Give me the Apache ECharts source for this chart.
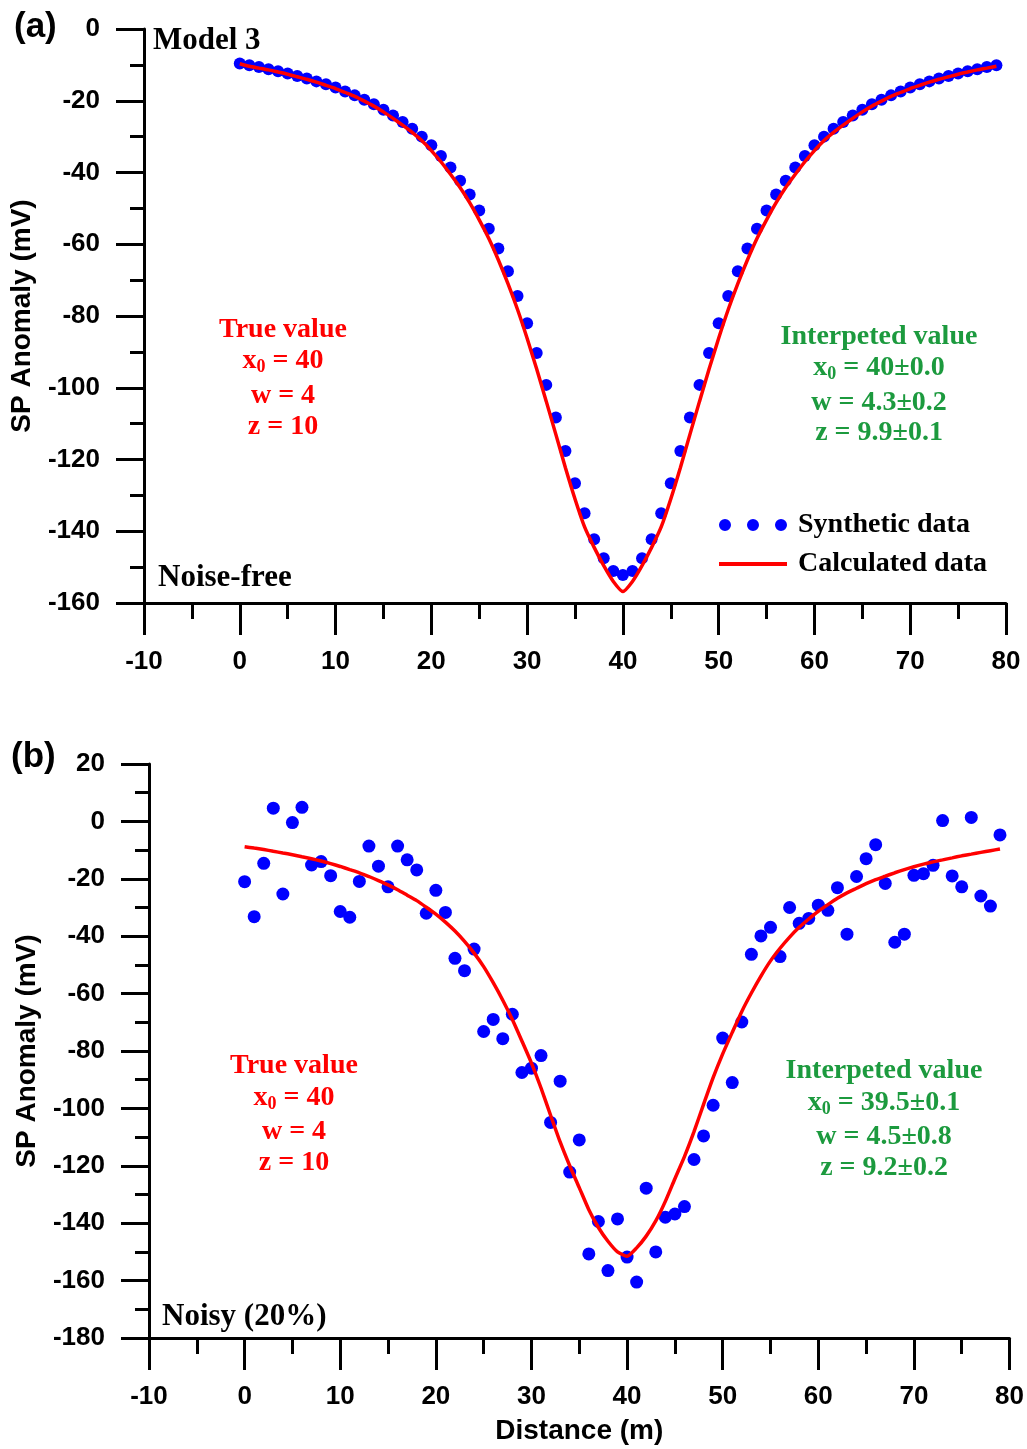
<!DOCTYPE html>
<html>
<head>
<meta charset="utf-8">
<script src="https://cdn.jsdelivr.net/npm/echarts@6/dist/echarts.min.js"></script>
<style>
  html, body { margin: 0; padding: 0; background: #fff; }
  #chart { width: 1027px; height: 1449px; }
</style>
</head>
<body>
<div id="chart"></div>
<script>
// Profile positions (m)
const distance = [0,1,2,3,4,5,6,7,8,9,10,11,12,13,14,15,16,17,18,19,
  20,21,22,23,24,25,26,27,28,29,30,31,32,33,34,35,36,37,38,39,
  40,41,42,43,44,45,46,47,48,49,50,51,52,53,54,55,56,57,58,59,
  60,61,62,63,64,65,66,67,68,69,70,71,72,73,74,75,76,77,78,79];

// (a) noise-free synthetic SP anomaly (mV)
const synthClean = [-9.6,-10.1,-10.6,-11.2,-11.8,-12.4,-13.1,-13.8,-14.6,-15.4,
  -16.3,-17.4,-18.5,-19.7,-21.0,-22.5,-24.1,-25.9,-27.8,-30.0,
  -32.4,-35.4,-38.6,-42.3,-46.1,-50.6,-55.7,-61.2,-67.5,-74.4,
  -82.0,-90.3,-99.2,-108.3,-117.6,-126.6,-135.0,-142.2,-147.5,-151.1,
  -152.2,-151.1,-147.5,-142.2,-135.0,-126.6,-117.6,-108.3,-99.2,-90.3,
  -82.0,-74.4,-67.5,-61.2,-55.7,-50.6,-46.1,-42.3,-38.6,-35.4,
  -32.4,-30.0,-27.8,-25.9,-24.1,-22.5,-21.0,-19.7,-18.5,-17.4,
  -16.3,-15.4,-14.6,-13.8,-13.1,-12.4,-11.8,-11.2,-10.6,-10.1];

// (a) calculated response of the inverted model (mV)
const calcClean = [-9.7,-10.4,-10.9,-11.4,-12.0,-12.6,-13.3,-14.0,-14.8,-15.7,
  -16.6,-17.7,-18.8,-20.1,-21.5,-23.1,-24.9,-26.8,-28.8,-31.1,
  -33.9,-37.0,-40.5,-44.2,-48.4,-53.2,-58.4,-64.4,-71.0,-78.2,
  -86.2,-94.8,-103.8,-113.0,-122.3,-131.0,-138.8,-144.5,-149.6,-154.0,
  -156.8,-154.0,-149.6,-144.5,-138.8,-131.0,-122.3,-113.0,-103.8,-94.8,
  -86.2,-78.2,-71.0,-64.4,-58.4,-53.2,-48.4,-44.2,-40.5,-37.0,
  -33.9,-31.1,-28.8,-26.8,-24.9,-23.1,-21.5,-20.1,-18.8,-17.7,
  -16.6,-15.7,-14.8,-14.0,-13.3,-12.6,-12.0,-11.4,-10.9,-10.4];

// (b) synthetic SP anomaly with 20% noise (mV)
const synthNoisy = [-21.0,-33.2,-14.6,4.6,-25.3,-0.4,4.9,-15.2,-14.0,-18.9,
  -31.4,-33.4,-20.9,-8.6,-15.6,-22.8,-8.6,-13.4,-16.9,-32.0,
  -24.0,-31.7,-47.7,-52.0,-44.5,-73.2,-69.0,-75.7,-67.2,-87.5,
  -86.0,-81.6,-104.9,-90.5,-122.2,-111.0,-150.7,-139.4,-156.5,-138.5,
  -151.8,-160.5,-127.8,-150.0,-137.9,-136.8,-134.2,-117.8,-109.6,-98.9,
  -75.5,-91.0,-69.9,-46.3,-39.9,-36.9,-47.1,-30.0,-35.5,-33.8,
  -29.2,-31.0,-23.1,-39.3,-19.2,-13.0,-8.1,-21.6,-42.1,-39.3,
  -18.8,-18.2,-15.3,0.3,-19.0,-22.8,1.4,-26.0,-29.5,-4.7];

// (b) calculated response of the inverted model (mV)
const calcNoisy = [-8.8,-9.3,-9.8,-10.4,-11.0,-11.6,-12.3,-13.0,-13.8,-14.7,
  -15.7,-16.8,-17.9,-19.2,-20.6,-22.1,-23.8,-25.7,-27.6,-29.9,
  -32.3,-35.1,-38.2,-41.8,-45.9,-50.6,-56.2,-62.3,-69.0,-76.5,
  -84.2,-92.9,-102.4,-111.7,-120.0,-127.6,-135.3,-141.5,-146.3,-150.0,
  -151.5,-148.6,-144.5,-139.2,-132.4,-124.5,-116.8,-108.1,-98.6,-89.3,
  -81.0,-73.5,-66.2,-59.8,-53.9,-48.6,-44.2,-40.3,-36.9,-34.0,
  -31.3,-29.0,-26.8,-24.9,-23.3,-21.7,-20.3,-19.1,-17.9,-16.8,
  -15.8,-14.9,-14.1,-13.4,-12.7,-12.0,-11.4,-10.8,-10.2,-9.6];

// Axis ranges
const xRange = { min: -10, max: 80, interval: 10 };
const yRangeA = { min: -160, max: 0, interval: 20 };
const yRangeB = { min: -180, max: 20, interval: 20 };

const pairs = (ys) => distance.map((d, i) => [d, ys[i]]);

const SANS = '"Liberation Sans", Arial, sans-serif';
const SERIF = '"Liberation Serif", "Times New Roman", serif';
const RED = '#ff0000';
const GREEN = '#1c9a3e';
const BLUE = '#0000ff';

function axisCommon() {
  return {
    axisLine: { show: true, onZero: false, lineStyle: { color: '#000', width: 3 } },
    axisTick: { show: true, length: 28, lineStyle: { color: '#000', width: 3 } },
    minorTick: { show: true, splitNumber: 2, length: 14, lineStyle: { color: '#000', width: 3 } },
    splitLine: { show: false },
    minorSplitLine: { show: false },
    axisLabel: { color: '#000', fontFamily: SANS, fontWeight: 'bold', fontSize: 26 }
  };
}

function xAxis(gridIndex, name) {
  const a = axisCommon();
  a.axisTick.length = 32;
  a.minorTick.length = 16;
  a.axisLabel.margin = 46;
  return Object.assign({
    type: 'value', gridIndex, position: 'bottom',
    min: xRange.min, max: xRange.max, interval: xRange.interval,
    name: name || '', nameLocation: 'middle', nameGap: 79,
    nameTextStyle: { color: '#000', fontFamily: SANS, fontWeight: 'bold', fontSize: 28 }
  }, a);
}

function yAxis(gridIndex, range) {
  const a = axisCommon();
  a.axisLabel.margin = 44;
  return Object.assign({
    type: 'value', gridIndex, position: 'left',
    min: range.min, max: range.max, interval: range.interval,
    name: 'SP Anomaly (mV)', nameLocation: 'middle', nameGap: 108,
    nameTextStyle: { color: '#000', fontFamily: SANS, fontWeight: 'bold', fontSize: 28 }
  }, a);
}

// Multi-line annotation blocks; lines with a subscripted x0 use rich text
function textBlock(cx, ys, lines, color) {
  const main = { fontFamily: SERIF, fontWeight: 'bold', fontSize: 28, fill: color, lineHeight: 31 };
  const sub = { fontFamily: SERIF, fontWeight: 'bold', fontSize: 18, fill: color, lineHeight: 18, verticalAlign: 'bottom' };
  return lines.map((t, i) => ({
    type: 'text', x: cx, y: ys[i], z: 10,
    style: {
      text: t, align: 'center', verticalAlign: 'middle',
      fontFamily: SERIF, fontWeight: 'bold', fontSize: 28, fill: color,
      rich: { m: main, s: sub }
    }
  }));
}

function label(x, y, text, font, align) {
  return { type: 'text', x, y, z: 10,
    style: { text, font, fill: '#000', align: align || 'left', verticalAlign: 'middle' } };
}

// Legend glyphs: a row of three dots, and a short thick bar for the fitted curve
const threeDots = 'path://M0,6a6,6 0 1,0 12,0a6,6 0 1,0 -12,0Z M28,6a6,6 0 1,0 12,0a6,6 0 1,0 -12,0Z M56,6a6,6 0 1,0 12,0a6,6 0 1,0 -12,0Z';
const lineBar = 'path://M0,0h68v4h-68Z';

const option = {
  animation: false,
  backgroundColor: '#fff',
  grid: [
    { left: 144, right: 21, top: 29, height: 574, containLabel: false },
    { left: 149, right: 17, top: 764, height: 574, containLabel: false }
  ],
  xAxis: [xAxis(0), xAxis(1, 'Distance (m)')],
  yAxis: [yAxis(0, yRangeA), yAxis(1, yRangeB)],
  legend: {
    orient: 'vertical', left: 714, top: 506,
    itemWidth: 68, itemHeight: 12, itemGap: 11,
    symbolKeepAspect: true,
    textStyle: { color: '#000', fontFamily: SERIF, fontWeight: 'bold', fontSize: 28, padding: [0, 0, 0, 6] },
    data: [
      { name: 'Synthetic data', icon: threeDots },
      { name: 'Calculated data', icon: lineBar, itemStyle: { color: RED } }
    ]
  },
  series: [
    { name: 'Synthetic data', type: 'scatter', xAxisIndex: 0, yAxisIndex: 0,
      data: pairs(synthClean), symbolSize: 12, itemStyle: { color: BLUE, opacity: 1 } },
    { name: 'Calculated data', type: 'line', xAxisIndex: 0, yAxisIndex: 0,
      data: pairs(calcClean), symbol: 'none', smooth: 0.2,
      lineStyle: { color: RED, width: 3.5 }, itemStyle: { color: RED } },
    { name: 'Synthetic data', type: 'scatter', xAxisIndex: 1, yAxisIndex: 1,
      data: pairs(synthNoisy), symbolSize: 13, itemStyle: { color: BLUE, opacity: 1 } },
    { name: 'Calculated data', type: 'line', xAxisIndex: 1, yAxisIndex: 1,
      data: pairs(calcNoisy), symbol: 'none', smooth: 0.2,
      lineStyle: { color: RED, width: 3.5 }, itemStyle: { color: RED } }
  ],
  graphic: [
    label(14, 27, '(a)', 'bold 35px ' + SANS),
    label(11, 757, '(b)', 'bold 35px ' + SANS),
    label(153, 41, 'Model 3', 'bold 31px ' + SERIF),
    label(158, 578, 'Noise-free', 'bold 31px ' + SERIF),
    label(162, 1317, 'Noisy (20%)', 'bold 31px ' + SERIF),
    ...textBlock(283, [330, 361, 396, 427],
      ['True value', '{m|x}{s|0}{m| = 40}', 'w = 4', 'z = 10'], RED),
    ...textBlock(879, [337, 368, 403, 433],
      ['Interpeted value', '{m|x}{s|0}{m| = 40±0.0}', 'w = 4.3±0.2', 'z = 9.9±0.1'], GREEN),
    ...textBlock(294, [1066, 1098, 1132, 1163],
      ['True value', '{m|x}{s|0}{m| = 40}', 'w = 4', 'z = 10'], RED),
    ...textBlock(884, [1071, 1103, 1137, 1168],
      ['Interpeted value', '{m|x}{s|0}{m| = 39.5±0.1}', 'w = 4.5±0.8', 'z = 9.2±0.2'], GREEN)
  ]
};

const chart = echarts.init(document.getElementById('chart'), null, { renderer: 'canvas' });
chart.setOption(option);
</script>
</body>
</html>
